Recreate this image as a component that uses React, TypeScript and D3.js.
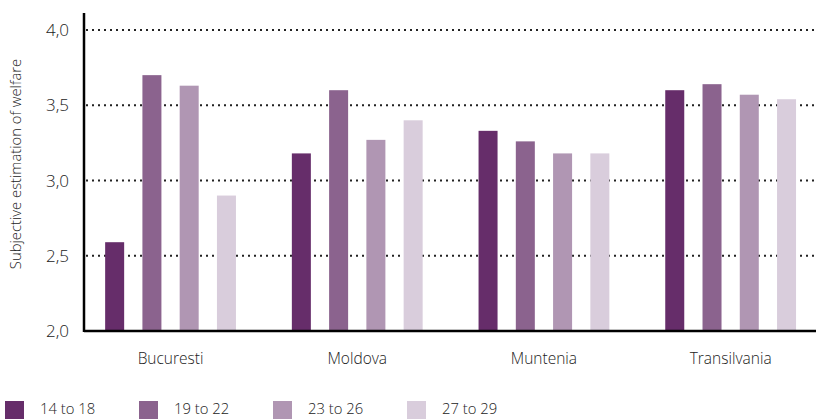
import React from "react";
import * as d3 from "d3";

const categories = ["Bucuresti", "Moldova", "Muntenia", "Transilvania"];
const seriesNames = ["14 to 18", "19 to 22", "23 to 26", "27 to 29"];
const s1418 = [2.59, 3.18, 3.33, 3.6];
const s1922 = [3.7, 3.6, 3.26, 3.64];
const s2326 = [3.63, 3.27, 3.18, 3.57];
const s2729 = [2.9, 3.4, 3.18, 3.54];
const seriesValues = [s1418, s1922, s2326, s2729];
const colors = ["#662d6a", "#8b638e", "#b096b3", "#d9cddc"];
const yTicks = [2.0, 2.5, 3.0, 3.5, 4.0];
const yTitle = "Subjective estimation of welfare";

const W = 816;
const H = 419;
const FONT = "'Open Sans', 'DejaVu Sans', sans-serif";

export default function App() {
  const axisX = 84;
  const x0 = d3.scaleBand<string>().domain(categories).range([77.2, 824]).paddingInner(0).paddingOuter(0);
  const x1 = d3
    .scaleBand<string>()
    .domain(seriesNames)
    .range([0, x0.bandwidth()])
    .paddingInner(0.49)
    .paddingOuter(0.75);
  const y = d3.scaleLinear().domain([2, 4]).range([331, 30]);
  const fmt = (v: number) => d3.format(".1f")(v).replace(".", ",");

  return (
    <svg width={W} height={H} style={{ position: "absolute", left: 0, top: 0, display: "block" }}>
      <rect width={W} height={H} fill="#fff" />
      {yTicks
        .filter((t) => t > 2)
        .map((t) => (
          <line
            key={t}
            x1={axisX + 2}
            x2={W}
            y1={y(t)}
            y2={y(t)}
            stroke="#222"
            strokeWidth={2}
            strokeDasharray="2,4"
          />
        ))}
      {categories.map((c, ci) => (
        <g key={c} transform={`translate(${x0(c)},0)`}>
          {seriesNames.map((s, si) => {
            const v = seriesValues[si][ci];
            return (
              <rect
                key={s}
                x={x1(s)}
                y={y(v)}
                width={x1.bandwidth()}
                height={y(2) - y(v)}
                fill={colors[si]}
              />
            );
          })}
        </g>
      ))}
      <line x1={axisX} x2={axisX} y1={13} y2={y(2) + 1} stroke="#000" strokeWidth={2.5} />
      <line x1={axisX} x2={W} y1={y(2)} y2={y(2)} stroke="#000" strokeWidth={2.5} />
      {yTicks.map((t) => (
        <text
          key={t}
          x={69}
          y={y(t)}
          dy="0.36em"
          textAnchor="end"
          fontFamily={FONT}
          fontSize={17}
          fontWeight={300}
          fill="#222"
        >
          {fmt(t)}
        </text>
      ))}
      {categories.map((c) => (
        <text
          key={c}
          x={(x0(c) as number) + x0.bandwidth() / 2}
          y={364}
          textAnchor="middle"
          fontFamily={FONT}
          fontSize={15.5}
          fontWeight={300}
          fill="#222"
        >
          {c}
        </text>
      ))}
      <text
        transform={`translate(21,${164}) rotate(-90)`}
        textAnchor="middle"
        fontFamily={FONT}
        fontSize={14.8}
        fontWeight={300}
        fill="#222"
      >
        {yTitle}
      </text>
      {seriesNames.map((s, i) => (
        <g key={s} transform={`translate(${5 + i * 134},401)`}>
          <rect width={19} height={18} fill={colors[i]} />
          <text x={35} y={13} fontFamily={FONT} fontSize={14.8} fontWeight={300} fill="#222">
            {s}
          </text>
        </g>
      ))}
    </svg>
  );
}
